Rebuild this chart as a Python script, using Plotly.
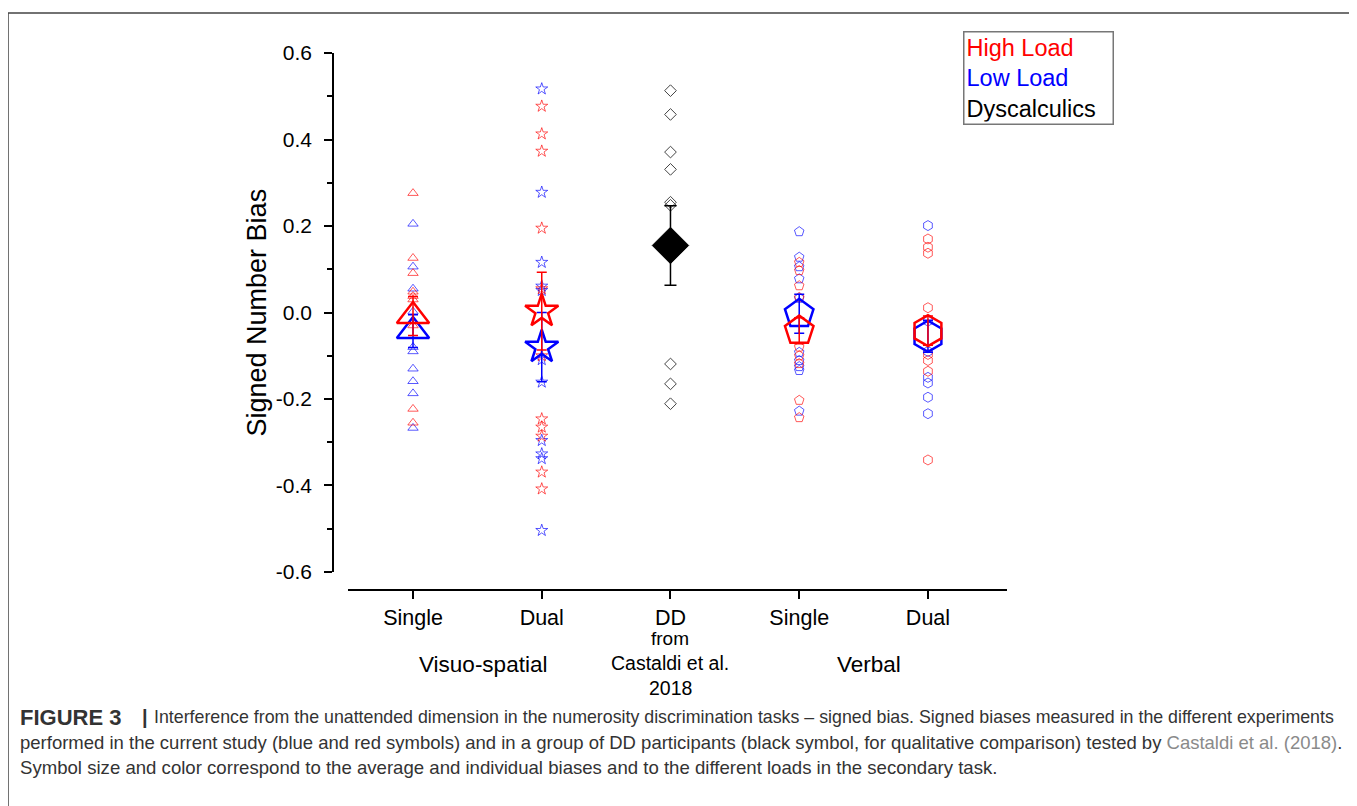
import plotly.graph_objects as go

# ---- data ----
categories = ["Single", "Dual", "DD", "Single", "Dual"]
cat_pos = [1, 2, 3, 4, 5]
y_tickvals = [-0.6, -0.4, -0.2, 0.0, 0.2, 0.4, 0.6]
y_ticktext = ["-0.6", "-0.4", "-0.2", "0.0", "0.2", "0.4", "0.6"]

vs_single_high = [0.276, 0.126, 0.091, 0.048, 0.038, 0.030, -0.030, -0.223, -0.255]
vs_single_low = [0.205, 0.106, 0.055, 0.002, -0.080, -0.090, -0.130, -0.159, -0.187, -0.267]
vs_dual_high = [0.477, 0.413, 0.373, 0.195, 0.055, -0.100, -0.246, -0.265, -0.286, -0.369, -0.408]
vs_dual_low = [0.517, 0.278, 0.116, 0.061, 0.051, -0.109, -0.161, -0.296, -0.327, -0.338, -0.504]
dd_values = [0.513, 0.458, 0.371, 0.331, 0.255, 0.248, -0.119, -0.165, -0.211]
verb_single_high = [0.116, 0.097, 0.062, 0.035, -0.080, -0.100, -0.118, -0.203, -0.243]
verb_single_low = [0.187, 0.128, 0.106, 0.078, 0.033, -0.092, -0.111, -0.125, -0.134, -0.228]
verb_dual_high = [0.170, 0.151, 0.137, 0.011, -0.097, -0.111, -0.136, -0.341]
verb_dual_low = [0.201, -0.020, -0.090, -0.150, -0.163, -0.196, -0.234]

mean_high = [-0.008, 0.003, -0.042, -0.042]
sem_high = [0.045, 0.090, 0.030, 0.034]
mean_low = [-0.043, -0.080, -0.003, -0.055]
sem_low = [0.038, 0.080, 0.045, 0.037]
dd_mean = [0.155]
dd_sem = [0.092]

group_pos = [1, 2, 4, 5]
symbols = ["triangle-up-open", "star-open", "pentagon-open", "hexagon-open"]
small_sizes = [9, 9, 10, 10]
big_sizes = [28, 25, 30, 31]

high_sets = [vs_single_high, vs_dual_high, verb_single_high, verb_dual_high]
low_sets = [vs_single_low, vs_dual_low, verb_single_low, verb_dual_low]

RED = "rgba(255,0,0,0.65)"
BLUE = "rgba(0,0,255,0.65)"

fig = go.Figure()

for i, p in enumerate(group_pos):
    fig.add_trace(go.Scatter(
        x=[p] * len(low_sets[i]), y=low_sets[i], mode="markers",
        marker=dict(symbol=symbols[i], size=small_sizes[i], color=BLUE,
                    line=dict(color=BLUE, width=1)),
        showlegend=False, hoverinfo="y"))
    fig.add_trace(go.Scatter(
        x=[p] * len(high_sets[i]), y=high_sets[i], mode="markers",
        marker=dict(symbol=symbols[i], size=small_sizes[i], color=RED,
                    line=dict(color=RED, width=1)),
        showlegend=False, hoverinfo="y"))

fig.add_trace(go.Scatter(
    x=[3] * len(dd_values), y=dd_values, mode="markers",
    marker=dict(symbol="diamond-open", size=9, color="#444",
                line=dict(color="#444", width=1)),
    showlegend=False, hoverinfo="y"))

for i, p in enumerate(group_pos):
    fig.add_trace(go.Scatter(
        x=[p], y=[mean_low[i]], mode="markers",
        error_y=dict(type="data", array=[sem_low[i]], color="blue",
                     thickness=1.5, width=5),
        marker=dict(symbol=symbols[i], size=big_sizes[i], color="blue",
                    line=dict(color="blue", width=2.5)),
        showlegend=False))
    fig.add_trace(go.Scatter(
        x=[p], y=[mean_high[i]], mode="markers",
        error_y=dict(type="data", array=[sem_high[i]], color="red",
                     thickness=1.5, width=5),
        marker=dict(symbol=symbols[i], size=big_sizes[i], color="red",
                    line=dict(color="red", width=2.5)),
        showlegend=False))

fig.add_trace(go.Scatter(
    x=[3], y=dd_mean, mode="markers",
    error_y=dict(type="data", array=dd_sem, color="black", thickness=1.5, width=6),
    marker=dict(symbol="diamond", size=28, color="black",
                line=dict(color="black", width=1)),
    showlegend=False))

FONT = "Liberation Sans, Arial, sans-serif"

# page offset (body margin) of 8 px
O = 8
FW, FH = 1357 - O, 806 - O
# plot area in page pixels: x 333..1007, y 53..590
L, T = 333 - O, 53 - O
R = FW - (1007 - O)
B = FH - (590 - O)
PW, PH = 1007 - 333, 590 - 53

def px(xpix):
    return (xpix - 333) / PW

def py(ypix):
    return (590 - ypix) / PH

fig.update_layout(
    width=FW, height=FH,
    margin=dict(l=L, r=R, t=T, b=B, pad=0),
    paper_bgcolor="white", plot_bgcolor="white",
    font=dict(family=FONT, color="black"),
    xaxis=dict(
        domain=[px(348), 1], range=[0.495, 5.614],
        anchor="free", position=0,
        tickvals=cat_pos, ticktext=categories,
        ticks="outside", ticklen=8, tickwidth=1.5, tickcolor="black",
        showline=True, linecolor="black", linewidth=1.5,
        showgrid=False, zeroline=False,
        tickfont=dict(size=21.5, family=FONT, color="black"),
    ),
    yaxis=dict(
        domain=[py(572), 1], range=[-0.6001, 0.6001],
        anchor="free", position=0,
        tickvals=y_tickvals, ticktext=y_ticktext,
        ticks="outside", ticklen=8, tickwidth=1.5, tickcolor="black",
        ticklabelstandoff=8,
        minor=dict(dtick=0.1, tick0=0, ticks="outside", ticklen=5,
                   tickwidth=1.5, tickcolor="black"),
        showline=True, linecolor="black", linewidth=1.5,
        showgrid=False, zeroline=False,
        tickfont=dict(size=21, family=FONT, color="black"),
    ),
)

annotations = [
    dict(text="Signed Number Bias", x=px(256), y=0, xref="paper", yref="y",
         textangle=-90, showarrow=False, font=dict(size=27, family=FONT),
         xanchor="center", yanchor="middle"),
    dict(text="from", x=3, y=py(638), xref="x", yref="paper", showarrow=False,
         font=dict(size=19, family=FONT), yanchor="middle"),
    dict(text="Castaldi et al.", x=3, y=py(663), xref="x", yref="paper", showarrow=False,
         font=dict(size=19.5, family=FONT), yanchor="middle"),
    dict(text="2018", x=3, y=py(688), xref="x", yref="paper", showarrow=False,
         font=dict(size=19.5, family=FONT), yanchor="middle"),
    dict(text="Visuo-spatial", x=1.544, y=py(664), xref="x", yref="paper", showarrow=False,
         font=dict(size=22.5, family=FONT), yanchor="middle"),
    dict(text="Verbal", x=4.54, y=py(664), xref="x", yref="paper", showarrow=False,
         font=dict(size=22.5, family=FONT), yanchor="middle"),
    dict(text="<span style='color:#ff0000'>High Load</span><br>"
              "<span style='color:#0000ff'>Low Load</span><br>"
              "<span style='color:#000000'>Dyscalculics</span>",
         x=px(963), y=py(31), xref="paper", yref="paper", showarrow=False,
         xanchor="left", yanchor="top", align="left", width=144,
         font=dict(size=23.5, family=FONT),
         bordercolor="#777", borderwidth=1.5, borderpad=2),
]

CAP = "#333"
annotations += [
    dict(text="<b>FIGURE 3</b>",
         x=px(18), y=py(717), xref="paper", yref="paper", showarrow=False,
         xanchor="left", yanchor="middle", font=dict(size=22, family=FONT, color=CAP)),
    dict(text="<b>|</b>",
         x=px(140), y=py(717), xref="paper", yref="paper", showarrow=False,
         xanchor="left", yanchor="middle", font=dict(size=20, family=FONT, color=CAP)),
    dict(text="Interference from the unattended dimension in the numerosity "
              "discrimination tasks – signed bias. Signed biases measured in the different experiments",
         x=px(152), y=py(717), xref="paper", yref="paper", showarrow=False,
         xanchor="left", yanchor="middle", font=dict(size=17.8, family=FONT, color=CAP)),
    dict(text="performed in the current study (blue and red symbols) and in a group of DD participants "
              "(black symbol, for qualitative comparison) tested by "
              "<span style='color:#8a8a8a'>Castaldi et al. (2018)</span>.",
         x=px(18), y=py(742), xref="paper", yref="paper", showarrow=False,
         xanchor="left", yanchor="middle", font=dict(size=18.5, family=FONT, color=CAP)),
    dict(text="Symbol size and color correspond to the average and individual biases and to the "
              "different loads in the secondary task.",
         x=px(18), y=py(767), xref="paper", yref="paper", showarrow=False,
         xanchor="left", yanchor="middle", font=dict(size=18.6, family=FONT, color=CAP)),
]
fig.update_layout(annotations=annotations)

fig.add_shape(type="rect", xref="paper", yref="paper",
              x0=px(8), x1=px(1352), y0=py(830), y1=py(13),
              line=dict(color="#444", width=1.5), fillcolor="rgba(0,0,0,0)")

fig.write_html("out.html")
